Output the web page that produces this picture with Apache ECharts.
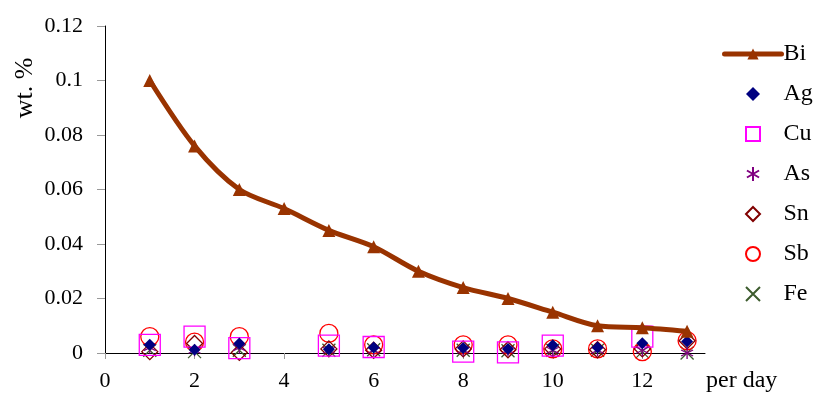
<!DOCTYPE html>
<html><head><meta charset="utf-8">
<script src="https://cdn.jsdelivr.net/npm/echarts@6/dist/echarts.min.js"></script>
<style>html,body{margin:0;padding:0;background:#fff}#c{width:817px;height:396px}</style>
</head><body><div id="c"></div>
<script>
const biDays = [1,2,3,4,5,6,7,8,9,10,11,12,13];
const biValues = [0.1,0.076,0.06,0.053,0.045,0.039,0.030,0.024,0.020,0.015,0.010,0.0093,0.008];
const days = [1,2,3,5,6,8,9,10,11,12,13];
const ag = [0.003,0.0012,0.0035,0.0014,0.002,0.0018,0.0015,0.0028,0.002,0.0036,0.0042];
const cu = [0.003,0.006,0.0018,0.0027,0.0022,0.0005,0.0002,0.0027,null,0.006,null];
const as = [0.002,0.001,0.002,0.001,0.001,0.001,0.001,0.001,0.001,0.001,0.0];
const sn = [0.0005,0.0035,0.0002,0.0015,0.001,0.0015,0.0012,0.0015,0.0012,0.0015,0.0045];
const sb = [0.006,0.004,0.006,0.0072,0.003,0.003,0.003,0.0015,0.0015,0.0005,0.0045];
const fe = [0.001,0.0005,0.001,0.001,0.0012,0.001,0.0008,0.001,0.001,0.0005,0.0];
const xTicks = [0,2,4,6,8,10,12];

const pair = (xs, ys) => xs.map((x,i)=>[x, ys[i]]).filter(p=>p[1]!==null);
const font = '"Liberation Serif", "Times New Roman", serif';
const asterisk = 'path://M5 0L5 10M0.67 2.5L9.33 7.5M0.67 7.5L9.33 2.5';
const cross = 'path://M0 0L10 10M10 0L0 10';
const diamond = 'path://M5 0L10 5L5 10L0 5Z';
const square = 'path://M0 0L10 0L10 10L0 10Z';
const circle = 'path://M5 0A5 5 0 1 1 4.999 0Z';

const chart = echarts.init(document.getElementById('c'));
chart.setOption({
  animation:false,
  backgroundColor:'#fff',
  grid:{left:105,right:112,top:26,bottom:43},
  xAxis:{type:'value',min:0,max:13.4,
    axisLine:{lineStyle:{color:'#000',width:1}},
    axisTick:{show:true,length:6,lineStyle:{color:'#999'},customValues:xTicks},
    axisLabel:{color:'#000',fontFamily:font,fontSize:22,margin:17,customValues:xTicks},
    splitLine:{show:false}},
  yAxis:{type:'value',min:0,max:0.12,interval:0.02,
    axisLine:{show:true,lineStyle:{color:'#000',width:1}},
    axisTick:{show:true,length:8,lineStyle:{color:'#999'}},
    axisLabel:{color:'#000',fontFamily:font,fontSize:22,margin:22,formatter:v=>String(+v.toFixed(2))},
    splitLine:{show:false}},
  legend:{orient:'vertical',left:722,top:42,padding:0,itemWidth:57,itemHeight:14,itemGap:16,
    symbolKeepAspect:true,
    lineStyle:{width:'inherit',cap:'round'},
    itemStyle:{opacity:1},
    textStyle:{fontFamily:font,fontSize:24,color:'#000',padding:[0,0,0,-3]},
    data:['Bi','Ag','Cu','As','Sn','Sb','Fe']},
  graphic:[
    {type:'text',x:25,y:88,rotation:Math.PI/2,
     style:{text:'wt. %',font:'26px "Liberation Serif"',fill:'#000',align:'center',verticalAlign:'middle'}},
    {type:'text',x:706,y:381,
     style:{text:'per day',font:'24px "Liberation Serif"',fill:'#000',align:'left',verticalAlign:'middle'}}
  ],
  series:[
    {name:'Fe',type:'scatter',data:pair(days,fe),symbol:cross,symbolSize:13,
      itemStyle:{color:'transparent',borderColor:'#3d5c2e',borderWidth:1.3,opacity:1},z:2},
    {name:'Sb',type:'scatter',data:pair(days,sb),symbol:circle,symbolSize:18,
      itemStyle:{color:'transparent',borderColor:'#ff0000',borderWidth:1.3,opacity:1},z:3},
    {name:'Sn',type:'scatter',data:pair(days,sn),symbol:diamond,symbolSize:16,
      itemStyle:{color:'transparent',borderColor:'#800000',borderWidth:1.3,opacity:1},z:3},
    {name:'As',type:'scatter',data:pair(days,as),symbol:asterisk,symbolSize:12,
      itemStyle:{color:'transparent',borderColor:'#800080',borderWidth:1.3,opacity:1},z:4},
    {name:'Cu',type:'scatter',data:pair(days,cu),symbol:square,symbolSize:21,
      itemStyle:{color:'transparent',borderColor:'#ff00ff',borderWidth:1.3,opacity:1},z:3},
    {name:'Ag',type:'scatter',data:pair(days,ag),symbol:diamond,symbolSize:12,
      itemStyle:{color:'#000080',opacity:1},z:4},
    {name:'Bi',type:'line',data:pair(biDays,biValues),smooth:0.3,symbol:'triangle',symbolSize:13,
      showAllSymbol:true,lineStyle:{color:'#993300',width:5,cap:'round'},itemStyle:{color:'#993300'},z:5}
  ]
});
</script></body></html>
